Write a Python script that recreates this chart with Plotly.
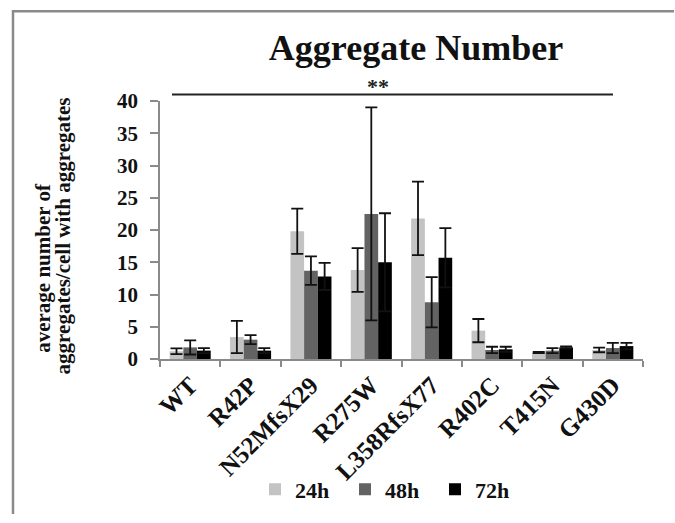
import plotly.graph_objects as go

categories = ["WT", "R42P", "N52MfsX29", "R275W", "L358RfsX77", "R402C", "T415N", "G430D"]
series_names = ["24h", "48h", "72h"]
vals_24h = [1.2, 3.4, 19.8, 13.8, 21.8, 4.4, 1.0, 1.4]
err_24h = [0.45, 2.5, 3.5, 3.4, 5.7, 1.8, 0.1, 0.35]
vals_48h = [1.8, 3.0, 13.7, 22.5, 8.8, 1.4, 1.3, 1.7]
err_48h = [1.1, 0.7, 2.2, 16.5, 3.9, 0.5, 0.4, 0.8]
vals_72h = [1.3, 1.3, 12.8, 15.0, 15.7, 1.5, 1.8, 2.0]
err_72h = [0.4, 0.4, 2.1, 7.6, 4.6, 0.4, 0.15, 0.5]
colors = ["#c3c3c3", "#636363", "#000000"]

FONT = "Liberation Serif"

fig = go.Figure()
for name, v, e, c in zip(series_names, [vals_24h, vals_48h, vals_72h],
                         [err_24h, err_48h, err_72h], colors):
    fig.add_trace(go.Bar(
        x=categories, y=v, name=name, marker=dict(color=c, line=dict(width=0)),
        error_y=dict(type="data", array=e, visible=True, color="#111111",
                     thickness=1.8, width=6),
    ))

W, H = 675, 523
L, R, T, B = 160, 32, 101, 159
pw, ph = W - L - R, H - T - B

def px(x):
    return (x - L) / pw

def py(y):
    return (H - B - y) / ph

fig.update_layout(
    width=W, height=H,
    margin=dict(l=L, r=R, t=T, b=B),
    paper_bgcolor="white", plot_bgcolor="white",
    barmode="group", bargap=0.32, bargroupgap=0,
    font=dict(family=FONT, color="#111111"),
    title=dict(text="<b>Aggregate Number</b>", font=dict(family=FONT, size=36, color="#111111"),
               x=416 / W, xanchor="center", y=1 - 47 / H, yanchor="middle"),
    showlegend=True,
    legend=dict(orientation="h", x=px(390), xanchor="center", y=py(497), yanchor="middle",
                font=dict(family=FONT, size=22, color="#111111", weight="bold"),
                bgcolor="rgba(0,0,0,0)", itemwidth=30, traceorder="normal",
                entrywidth=45),
    xaxis=dict(
        type="category", showline=True, linecolor="#8a8a8a", linewidth=1.5,
        ticks="outside", tickson="boundaries", ticklen=6, tickcolor="#8a8a8a", tickwidth=1.5,
        tickangle=-45, tickfont=dict(family=FONT, size=25, color="#111111", weight="bold"),
        showgrid=False, automargin=False, zeroline=False,
    ),
    yaxis=dict(
        range=[0, 40], dtick=5, showline=True, linecolor="#8a8a8a", linewidth=1.5,
        ticks="outside", ticklen=8, tickcolor="#8a8a8a", tickwidth=1.5,
        tickfont=dict(family=FONT, size=21, color="#111111", weight="bold"),
        ticklabelstandoff=8,
        showgrid=False, zeroline=False, automargin=False,
    ),
)

# y-axis title lines
fig.add_annotation(text="<b>average number of</b>", x=px(43), y=py(271), xref="paper", yref="paper",
                   xanchor="center", yanchor="middle",
                   textangle=-90, showarrow=False, font=dict(family=FONT, size=21, color="#111111"))
fig.add_annotation(text="<b>aggregates/cell with aggregates</b>", x=px(63), y=py(239), xref="paper", yref="paper",
                   xanchor="center", yanchor="middle",
                   textangle=-90, showarrow=False, font=dict(family=FONT, size=21, color="#111111"))

# significance line and stars
fig.add_shape(type="line", xref="paper", yref="paper", x0=px(172), x1=px(613), y0=py(94.5), y1=py(94.5),
              line=dict(color="#222222", width=2))
fig.add_annotation(text="<b>**</b>", x=px(378), y=py(86), xref="paper", yref="paper",
                   xanchor="center", yanchor="middle",
                   showarrow=False, font=dict(family=FONT, size=22, color="#222222"))

# outer frame: open path along the left and top edges, kept inside the page
fx, ftop, fright, fbot = px(13), py(9.5), px(674), py(522)
fig.add_shape(type="path", xref="paper", yref="paper",
              path=f"M {fx},{fbot} L {fx},{ftop} L {fright},{ftop}",
              line=dict(color="#8a8a8a", width=2.5), fillcolor="rgba(0,0,0,0)")

fig.write_html(
    "out.html",
    config={"displayModeBar": False},
    post_script=("document.body.style.margin='0px';document.body.style.overflow='hidden';"
                 "document.documentElement.style.overflow='hidden';"),
)
